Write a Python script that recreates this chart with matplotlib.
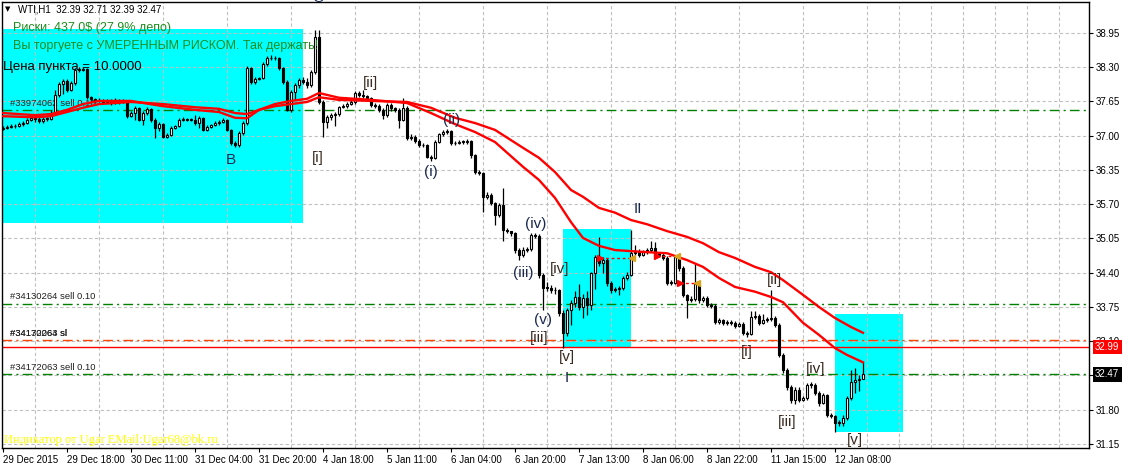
"""WTI H1 candles with two moving averages, order levels and Elliott wave marks."""

import matplotlib
matplotlib.use("Agg")
import matplotlib.pyplot as plt
import matplotlib.transforms as mtransforms
from matplotlib.patches import Rectangle
import numpy as np

# ---- data (prices) ----
first_open = 37.12
closes = [
    37.15, 37.17, 37.18, 37.18, 37.22, 37.24, 37.30, 37.34, 37.32, 37.28,
    37.32, 37.32, 37.43, 37.77, 37.98, 38.04, 37.87, 38.00, 38.25, 38.25,
    38.27, 37.73, 37.70, 37.66, 37.68, 37.64, 37.66, 37.62, 37.68, 37.64,
    37.66, 37.37, 37.43, 37.53, 37.30, 37.43, 37.51, 37.30, 37.15, 37.22,
    36.98, 37.01, 37.15, 37.18, 37.30, 37.32, 37.30, 37.30, 37.24, 37.34,
    37.11, 37.17, 37.20, 37.24, 37.26, 37.30, 37.11, 36.86, 36.82, 37.05,
    37.24, 38.28, 38.02, 38.08, 38.10, 38.36, 38.47, 38.47, 38.47, 38.28,
    38.02, 37.49, 37.83, 37.96, 38.06, 38.02, 37.96, 38.21, 38.87, 37.64,
    37.26, 37.35, 37.39, 37.41, 37.54, 37.56, 37.60, 37.64, 37.81, 37.77,
    37.75, 37.72, 37.58, 37.56, 37.49, 37.39, 37.58, 37.53, 37.49, 37.30,
    37.53, 36.96, 36.98, 36.90, 36.82, 36.82, 36.60, 36.58, 36.88, 37.03,
    37.07, 37.09, 36.86, 36.86, 36.88, 36.88, 36.90, 36.63, 36.31, 36.29,
    35.84, 35.88, 35.72, 35.50, 35.69, 35.21, 35.19, 35.15, 34.83, 34.74,
    34.83, 34.85, 35.12, 35.10, 34.36, 34.11, 34.11, 34.07, 34.07, 33.64,
    33.26, 33.69, 33.83, 33.94, 33.75, 33.92, 33.79, 34.39, 34.70, 34.58,
    34.64, 34.21, 34.07, 34.09, 34.11, 34.30, 34.36, 34.77, 34.79, 34.74,
    34.79, 34.83, 34.87, 34.77, 34.74, 34.68, 34.21, 34.21, 34.70, 34.49,
    33.98, 33.88, 33.90, 34.19, 33.88, 33.92, 33.79, 33.77, 33.46, 33.50,
    33.45, 33.46, 33.45, 33.39, 33.43, 33.26, 33.24, 33.56, 33.58, 33.45,
    33.50, 33.52, 33.54, 33.41, 32.84, 32.55, 32.23, 31.98, 32.18, 31.98,
    32.02, 32.27, 32.27, 32.12, 31.93, 32.08, 31.70, 31.68, 31.55, 31.55,
    31.64, 32.02, 32.32, 32.36, 32.39, 32.47,
]
highs = [
    37.18, 37.20, 37.22, 37.22, 37.26, 37.27, 37.34, 37.38, 37.37, 37.36,
    37.35, 37.36, 37.48, 37.86, 38.02, 38.08, 38.07, 38.04, 38.29, 38.30,
    38.31, 38.29, 37.76, 37.72, 37.71, 37.70, 37.70, 37.69, 37.71, 37.70,
    37.70, 37.68, 37.47, 37.56, 37.55, 37.46, 37.55, 37.53, 37.34, 37.26,
    37.24, 37.06, 37.18, 37.21, 37.33, 37.35, 37.34, 37.33, 37.40, 37.37,
    37.36, 37.20, 37.23, 37.27, 37.29, 37.33, 37.32, 37.13, 36.90, 37.08,
    37.27, 38.32, 38.30, 38.12, 38.12, 38.39, 38.52, 38.53, 38.52, 38.50,
    38.31, 38.05, 37.87, 38.00, 38.10, 38.12, 38.10, 38.25, 39.00, 39.00,
    37.68, 37.40, 37.43, 37.45, 37.57, 37.60, 37.64, 37.67, 37.84, 37.84,
    37.87, 37.78, 37.74, 37.62, 37.60, 37.52, 37.62, 37.62, 37.55, 37.52,
    37.72, 37.56, 37.03, 37.02, 36.93, 36.86, 36.85, 36.64, 36.91, 37.06,
    37.10, 37.12, 37.11, 36.90, 36.91, 36.91, 36.94, 36.92, 36.66, 36.35,
    36.32, 35.93, 35.91, 35.75, 35.73, 36.00, 35.24, 35.20, 35.17, 34.86,
    34.88, 34.89, 35.15, 35.16, 35.13, 34.40, 34.22, 34.17, 34.13, 34.10,
    33.70, 33.74, 33.88, 34.05, 34.19, 34.00, 34.05, 34.42, 34.73, 35.08,
    34.69, 34.67, 34.25, 34.13, 34.15, 34.34, 34.41, 35.22, 34.92, 34.85,
    34.84, 34.87, 35.00, 34.98, 34.80, 34.78, 34.72, 34.26, 34.74, 34.73,
    34.52, 34.00, 33.95, 34.58, 34.22, 33.96, 33.95, 33.82, 33.80, 33.55,
    33.53, 33.50, 33.50, 33.48, 33.47, 33.46, 33.29, 33.68, 33.68, 33.62,
    33.62, 33.56, 34.07, 33.58, 33.44, 32.88, 32.59, 32.27, 32.24, 32.23,
    32.06, 32.30, 32.33, 32.30, 32.15, 32.12, 32.10, 31.73, 31.70, 31.60,
    31.70, 32.07, 32.55, 32.59, 32.45, 32.71,
]
lows = [
    37.10, 37.13, 37.14, 37.15, 37.16, 37.19, 37.22, 37.27, 37.26, 37.24,
    37.25, 37.27, 37.29, 37.40, 37.74, 37.80, 37.83, 37.85, 37.97, 38.21,
    38.22, 37.70, 37.66, 37.62, 37.63, 37.61, 37.62, 37.59, 37.60, 37.61,
    37.62, 37.33, 37.35, 37.30, 37.27, 37.20, 37.40, 37.26, 36.96, 37.08,
    36.95, 36.96, 36.99, 37.12, 37.16, 37.27, 37.27, 37.27, 37.21, 37.14,
    37.08, 37.09, 37.14, 37.18, 37.21, 37.24, 37.08, 36.83, 36.78, 36.78,
    37.02, 37.20, 37.98, 37.99, 38.06, 38.08, 38.33, 38.43, 38.44, 38.25,
    37.98, 37.46, 37.45, 37.68, 37.90, 37.98, 37.90, 37.93, 38.18, 37.60,
    36.98, 37.15, 37.30, 37.18, 37.38, 37.52, 37.53, 37.58, 37.61, 37.74,
    37.72, 37.69, 37.55, 37.52, 37.45, 37.32, 37.36, 37.46, 37.45, 37.15,
    37.27, 36.92, 36.92, 36.86, 36.78, 36.78, 36.57, 36.52, 36.55, 36.86,
    37.00, 37.04, 36.82, 36.82, 36.84, 36.84, 36.85, 36.58, 36.28, 36.25,
    35.55, 35.80, 35.68, 35.30, 35.45, 35.00, 35.15, 35.10, 34.78, 34.65,
    34.70, 34.80, 34.82, 35.06, 34.30, 33.69, 34.05, 34.02, 34.00, 33.58,
    32.97, 33.20, 33.40, 33.75, 33.70, 33.55, 33.60, 33.70, 34.10, 34.53,
    34.40, 34.15, 34.02, 34.04, 33.97, 34.08, 34.27, 34.33, 34.73, 34.69,
    34.72, 34.76, 34.80, 34.74, 34.70, 34.64, 34.16, 34.17, 34.18, 34.44,
    33.93, 33.55, 33.85, 33.87, 33.82, 33.85, 33.75, 33.73, 33.42, 33.43,
    33.40, 33.40, 33.41, 33.36, 33.37, 33.22, 33.18, 33.21, 33.53, 33.41,
    33.42, 33.46, 33.48, 33.37, 32.80, 32.50, 32.18, 31.93, 31.90, 31.95,
    31.96, 31.98, 32.22, 32.08, 31.88, 31.90, 31.66, 31.64, 31.37, 31.50,
    31.50, 31.60, 31.98, 32.12, 32.15, 32.39,
]

# moving averages, sampled at these bars
ma_fast_bars = [0, 8, 12, 16, 20, 24, 32, 40, 48, 54, 58, 61, 64, 68, 72, 76, 79, 84, 92, 101,
                107, 113, 118, 123, 130, 134, 138, 142, 145, 149, 153, 161, 166, 171, 175, 179,
                183, 188, 192, 195, 200, 204, 208, 211, 215]
ma_fast = [37.43, 37.39, 37.41, 37.49, 37.60, 37.66, 37.66, 37.56, 37.49, 37.45, 37.34, 37.33,
           37.49, 37.60, 37.66, 37.70, 37.81, 37.72, 37.68, 37.62, 37.43, 37.22, 37.07, 36.88,
           36.41, 36.16, 35.82, 35.36, 35.06, 34.91, 34.83, 34.79, 34.77, 34.64, 34.51, 34.30,
           34.13, 34.04, 33.94, 33.84, 33.45, 33.22, 32.97, 32.84, 32.70]
ma_slow_bars = [0, 8, 12, 16, 20, 24, 32, 40, 48, 54, 58, 61, 64, 68, 72, 76, 79, 84, 92, 101,
                107, 113, 118, 123, 130, 134, 138, 142, 145, 149, 153, 157, 161, 166, 171, 175,
                179, 183, 188, 192, 195, 200, 204, 208, 212, 215]
ma_slow = [37.37, 37.35, 37.37, 37.45, 37.53, 37.60, 37.64, 37.60, 37.54, 37.51, 37.43, 37.41,
           37.49, 37.56, 37.60, 37.64, 37.73, 37.68, 37.66, 37.64, 37.53, 37.34, 37.24, 37.11,
           36.77, 36.58, 36.31, 35.97, 35.84, 35.63, 35.54, 35.40, 35.32, 35.19, 35.08, 34.96,
           34.79, 34.68, 34.51, 34.41, 34.26, 33.98, 33.75, 33.54, 33.37, 33.26]

# order levels
order_prices = [37.49, 33.81, 32.48]
order_labels = ["#33974062 sell 0.10", "#34130264 sell 0.10", "#34172063 sell 0.10"]
sl_price = 33.12
sl_labels = ["#34130264 sl", "#34172063 sl"]
red_level = 32.99
bid_price = 32.47

# closed trades: (entry bar, exit bar, price)
trade_entry_bars = [149.25, 163.5, 169.25]
trade_exit_bars = [157.25, 168.5, 173.5]
trade_prices = [34.68, 34.71, 34.21]

# highlighted zones: (bar from, bar to, price low, price high)
zone_bar0 = [-0.25, 140, 208]
zone_bar1 = [75, 157, 225]
zone_lo = [35.34, 32.97, 31.37]
zone_hi = [39.02, 35.23, 33.62]

# wave marks
wave_text = ["B", "[i]", "[ii]", "(i)", "(ii)", "(iii)", "(iv)", "(v)", "[iii]", "[iv]",
             "[v]", "I", "II", "[ii]", "[i]", "[iii]", "[iv]", "[v]"]
wave_bar = [57, 78.75, 92, 107, 112.25, 130, 133.25, 135, 134, 139.25,
            141, 141, 158.75, 193, 186, 196, 203.25, 213]
wave_price = [36.54, 36.58, 38.00, 36.31, 37.30, 34.39, 35.33, 33.50, 33.16, 34.47,
              32.80, 32.40, 35.61, 34.26, 32.89, 31.57, 32.57, 31.23]

ytick_vals = [38.95, 38.30, 37.65, 37.00, 36.35, 35.70, 35.05, 34.40, 33.75, 33.10,
              32.45, 31.80, 31.15]
xtick_bars = [0, 16, 32, 48, 64, 80, 96, 112, 128, 144, 160, 176, 192, 208]
xtick_labels = ["29 Dec 2015", "29 Dec 18:00", "30 Dec 11:00", "31 Dec 04:00", "31 Dec 20:00",
                "4 Jan 18:00", "5 Jan 11:00", "6 Jan 04:00", "6 Jan 20:00", "7 Jan 13:00",
                "8 Jan 06:00", "8 Jan 22:00", "11 Jan 15:00", "12 Jan 08:00"]

# ---- figure ----
plt.rcParams["font.family"] = ["Liberation Sans", "DejaVu Sans"]
W, H = 1129, 469
fig = plt.figure(figsize=(W / 100, H / 100), dpi=100)
fig.patch.set_facecolor("white")
ax = fig.add_axes([2 / W, (H - 448) / H, 1087 / W, 446 / H])
ax.set_xlim(-0.25, 271.5)
ax.set_ylim(31.074, 39.537)
for sp in ax.spines.values():
    sp.set_color("black")
    sp.set_linewidth(1)

# axes ticks / grid
ax.yaxis.tick_right()
ax.set_yticks(ytick_vals)
ax.set_yticklabels([f"{v:.2f}" for v in ytick_vals])
ax.set_xticks(xtick_bars)
ax.set_xticklabels(xtick_labels)
ax.set_xticks(np.arange(8, 272, 8), minor=True)
ax.tick_params(axis="both", which="major", length=3, width=0.8, labelsize=7, colors="black", pad=2)
ax.tick_params(axis="x", which="minor", length=0)
for lbl in ax.get_xticklabels():
    lbl.set_horizontalalignment("left")
ax.set_axisbelow(True)
ax.grid(True, which="major", axis="y", color="#c0c0c0", linestyle=(0, (3, 2.2)), linewidth=0.8)
ax.grid(True, which="minor", axis="x", color="#c0c0c0", linestyle=(0, (3, 2.2)), linewidth=0.8)

# zones
for b0, b1, lo, hi in zip(zone_bar0, zone_bar1, zone_lo, zone_hi):
    ax.add_patch(Rectangle((b0, lo), b1 - b0, hi - lo, facecolor="#00ffff",
                           edgecolor="none", zorder=0.2))

# order levels
for p in order_prices:
    ax.axhline(p, color="#008000", lw=1, linestyle=(0, (7, 3, 1.5, 3)), zorder=1)
ax.axhline(sl_price, color="#ff4500", lw=1, linestyle=(0, (7, 3, 1.5, 3)), zorder=1)
ax.axhline(red_level, color="#ff0000", lw=1, zorder=1)
for p, t in zip(order_prices, order_labels):
    ax.text(1.75, p + 0.13, t, fontsize=6.8, color="#202020", va="center", ha="left", zorder=2)
for t in sl_labels:
    ax.text(1.75, sl_price + 0.13, t, fontsize=6.8, color="#202020", va="center", ha="left", zorder=2)

# candles
opens = [first_open] + closes[:-1]
for i, (o, h, l, c) in enumerate(zip(opens, highs, lows, closes)):
    h = max(h, o, c)
    l = min(l, o, c)
    ax.plot([i, i], [l, h], color="black", lw=0.9, zorder=3, solid_capstyle="butt")
    body_lo = min(o, c)
    body_h = max(abs(c - o), 0.01)
    face = "white" if c > o else "black"
    ax.add_patch(Rectangle((i - 0.36, body_lo), 0.72, body_h, facecolor=face,
                           edgecolor="black", lw=0.8, zorder=4))

# moving averages
ax.plot(ma_slow_bars, ma_slow, color="#ff0000", lw=1.7, zorder=5)
ax.plot(ma_fast_bars, ma_fast, color="#ff0000", lw=1.7, zorder=5)

# trade history
for b0, b1, p in zip(trade_entry_bars, trade_exit_bars, trade_prices):
    ax.plot([b0, b1], [p, p], color="#ff0000", lw=1, linestyle=(0, (2, 2)), zorder=6)
    ax.plot([b0], [p], marker=">", ms=4.5, color="#ff0000", zorder=7)
    ax.plot([b1], [p], marker="<", ms=5, color="#daa520", zorder=7)

# wave labels
for t, b, p in zip(wave_text, wave_bar, wave_price):
    col = "#3a2a20" if t.startswith("[") else "#1a2850"
    ax.text(b, p, t, fontsize=11, color=col, ha="center", va="center", zorder=8)

# price boxes on the right scale
trans = mtransforms.blended_transform_factory(ax.transAxes, ax.transData)
ax.text(1.0055, red_level, f"{red_level:.2f}", transform=trans, fontsize=7, color="white",
        ha="left", va="center", clip_on=False, zorder=9,
        bbox=dict(facecolor="#ff0000", edgecolor="none", boxstyle="square,pad=0.25"))
ax.text(1.0055, bid_price, f"{bid_price:.2f}", transform=trans, fontsize=7, color="white",
        ha="left", va="center", clip_on=False, zorder=9,
        bbox=dict(facecolor="black", edgecolor="none", boxstyle="square,pad=0.25"))


def px(x, y):
    return x / W, 1 - y / H


# header texts
fig.text(*px(5, 9), "\u25bc", fontsize=5, color="black", ha="left", va="center",
         family=["DejaVu Sans"])
fig.text(*px(18, 9), "WTI,H1  32.39 32.71 32.39 32.47", fontsize=7, color="black",
         ha="left", va="center")
fig.text(*px(13, 28), "Риски: 437.0$ (27.9% депо)", fontsize=9, color="#1e8c1e",
         ha="left", va="center", zorder=10)
fig.text(*px(13, 46), "Вы торгуете с УМЕРЕННЫМ РИСКОМ. Так держать!", fontsize=9,
         color="#1e8c1e", ha="left", va="center", zorder=10)
fig.text(*px(3, 67), "Цена пункта = 10.0000", fontsize=9.5, color="black",
         ha="left", va="center", zorder=10)
fig.text(*px(4, 440), "Индикатор от Ugar EMail:Ugar68@bk.ru", fontsize=9, color="#ffff00",
         ha="left", va="center", family=["Liberation Serif", "DejaVu Serif"], zorder=10)
fig.text(*px(318, -2), "O", fontsize=11, color="#1a2850", ha="center", va="center")

fig.savefig("out.png", dpi=100)
